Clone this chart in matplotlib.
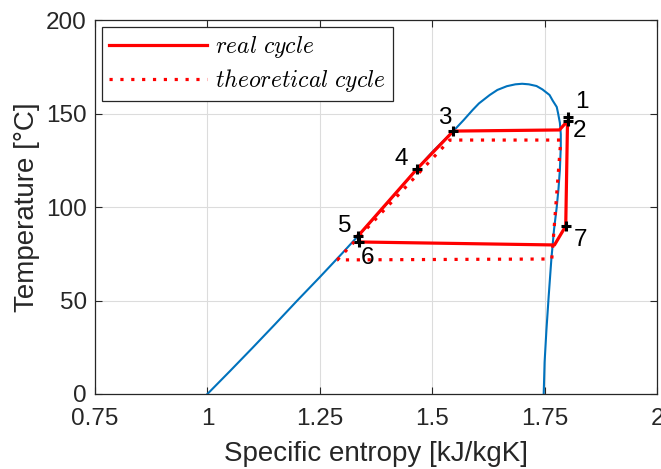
import matplotlib
matplotlib.use('Agg')
import matplotlib.pyplot as plt

plt.rcParams['font.family'] = ['Liberation Sans', 'DejaVu Sans']
plt.rcParams['mathtext.fontset'] = 'cm'

# saturation dome (liquid side up to the top, then vapour side down)
dome_s = [1.000, 1.050, 1.100, 1.150, 1.200, 1.250, 1.300, 1.335, 1.400, 1.466,
          1.500, 1.547, 1.570, 1.590, 1.604, 1.628, 1.645, 1.666, 1.685, 1.700,
          1.715, 1.732, 1.745, 1.761, 1.768, 1.777, 1.780, 1.784, 1.786, 1.786,
          1.784, 1.781, 1.777, 1.771, 1.765, 1.759, 1.754, 1.750, 1.748]
dome_T = [0.0, 12.2, 24.6, 37.2, 50.0, 62.5, 75.3, 84.5, 102.0, 120.3,
          129.4, 140.6, 146.5, 151.9, 155.4, 159.9, 162.6, 164.6, 165.6, 165.9,
          165.6, 164.7, 162.9, 159.9, 156.9, 153.5, 150.1, 145.0, 139.0, 132.0,
          120.0, 110.0, 100.0, 88.0, 72.0, 52.0, 34.0, 17.0, 0.0]

# real cycle path
real_s = [1.335, 1.466, 1.547, 1.783, 1.801, 1.797, 1.772, 1.337, 1.335]
real_T = [84.5, 120.3, 140.6, 141.2, 146.0, 89.8, 79.7, 81.3, 84.5]

# theoretical cycle path
theo_s = [1.289, 1.539, 1.786, 1.766, 1.289]
theo_T = [71.7, 135.8, 135.8, 72.2, 71.7]

# numbered state points
pt_names = ['1', '2', '3', '4', '5', '6', '7']
pt_s = [1.801, 1.801, 1.547, 1.466, 1.335, 1.337, 1.797]
pt_T = [148.1, 146.0, 140.6, 120.3, 84.5, 81.3, 89.8]
lbl_s = [1.834, 1.827, 1.529, 1.431, 1.306, 1.357, 1.830]
lbl_T = [156.1, 140.6, 147.6, 125.7, 89.8, 72.7, 82.4]

fig = plt.figure(figsize=(6.61, 4.69), dpi=100)
ax = fig.add_axes([95 / 661, 1 - 394 / 469, 562 / 661, 374 / 469])

ax.plot(dome_s, dome_T, color='#0072BD', lw=1.5)
ax.plot(theo_s, theo_T, color='red', lw=2.3, dashes=(1, 2.4),
        label=r'$theoretical\ cycle$')
ax.plot(real_s, real_T, color='red', lw=2.3, label=r'$real\ cycle$')
ax.plot(pt_s, pt_T, ls='none', marker='+', color='black', ms=7, mew=2.2)
for name, s, T in zip(pt_names, lbl_s, lbl_T):
    ax.text(s, T, name, fontsize=17.5, ha='center', va='center', color='black')

ax.set_xlim(0.75, 2)
ax.set_ylim(0, 200)
ax.set_xticks([0.75, 1, 1.25, 1.5, 1.75, 2])
ax.set_xticklabels(['0.75', '1', '1.25', '1.5', '1.75', '2'])
ax.set_yticks([0, 50, 100, 150, 200])
ax.grid(True, color='#dcdcdc', lw=0.8)
ax.set_axisbelow(True)
ax.tick_params(direction='in', top=True, right=True, labelsize=17.5,
               colors='#262626', length=5)
ax.tick_params(axis='x', pad=10)
ax.tick_params(axis='y', pad=6)
for sp in ax.spines.values():
    sp.set_color('#262626')
    sp.set_linewidth(0.9)
ax.set_xlabel('Specific entropy [kJ/kgK]', fontsize=20, color='#262626',
              labelpad=8)
ax.set_ylabel('Temperature [°C]', fontsize=20, color='#262626', labelpad=4)

h, l = ax.get_legend_handles_labels()
leg = ax.legend([h[1], h[0]], [l[1], l[0]], loc='upper left',
                bbox_to_anchor=(0.0125, 0.981), borderaxespad=0,
                fontsize=17, handlelength=4.15, handletextpad=0.35,
                labelspacing=0.3, borderpad=0.3,
                fancybox=False, framealpha=1)
leg.get_frame().set_edgecolor('#262626')
leg.get_frame().set_linewidth(0.9)

fig.savefig('out.png', dpi=100)
